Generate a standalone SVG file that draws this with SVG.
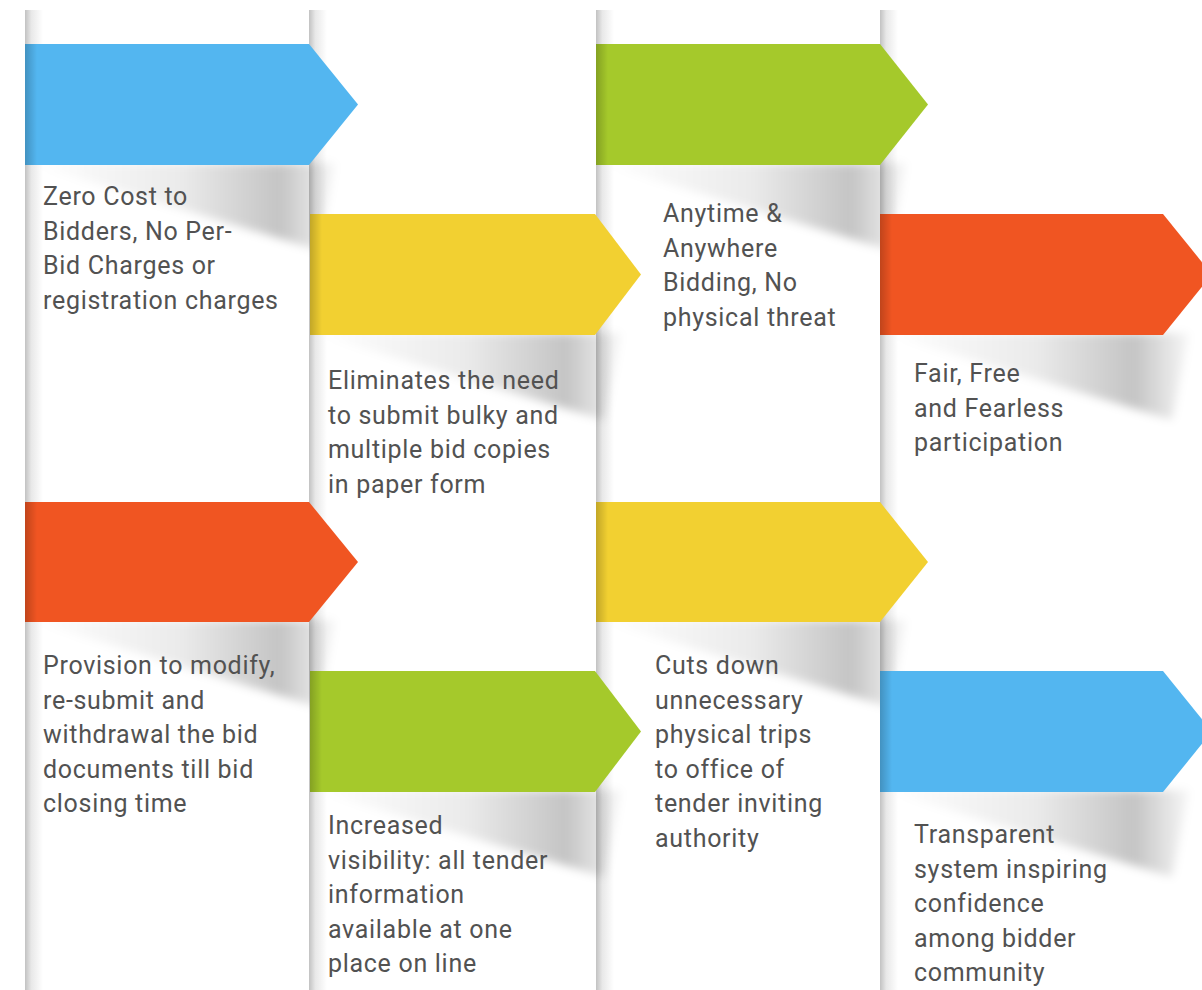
<svg xmlns="http://www.w3.org/2000/svg" width="1202" height="990" viewBox="0 0 1202 990">
  <defs>
    <linearGradient id="edge" x1="0" y1="0" x2="1" y2="0">
      <stop offset="0" stop-color="#000" stop-opacity="0.24"/>
      <stop offset="0.35" stop-color="#000" stop-opacity="0.09"/>
      <stop offset="1" stop-color="#000" stop-opacity="0"/>
    </linearGradient>
    <linearGradient id="fold" x1="0" y1="0" x2="1" y2="0">
      <stop offset="0" stop-color="#000" stop-opacity="0.2"/>
      <stop offset="1" stop-color="#000" stop-opacity="0"/>
    </linearGradient>
    <linearGradient id="shade" x1="0" y1="0" x2="1" y2="0">
      <stop offset="0" stop-color="#000" stop-opacity="0"/>
      <stop offset="0.5" stop-color="#000" stop-opacity="0.08"/>
      <stop offset="0.82" stop-color="#000" stop-opacity="0.23"/>
      <stop offset="1" stop-color="#000" stop-opacity="0.03"/>
    </linearGradient>
    <filter id="blur" x="-20%" y="-40%" width="140%" height="180%">
      <feGaussianBlur stdDeviation="5"/>
    </filter>
  </defs>
  <style>
    .card { fill: #ffffff; }
    .edge { fill: url(#edge); }
    .fold { fill: url(#fold); }
    .shadow { fill: url(#shade); filter: url(#blur); }
    .blue { fill: #53B6F0; }
    .yellow { fill: #F2D031; }
    .green { fill: #A5C92B; }
    .orange { fill: #F05522; }
    text { font-family: Roboto, "Liberation Sans", sans-serif; font-size: 25px; letter-spacing: 0.7px; fill: #525252; }
  </style>
  <rect width="1202" height="990" fill="#ffffff"/>

  <g id="cards">
    <rect class="card" x="25" y="10" width="284" height="980"/>
    <rect class="card" x="309" y="10" width="287" height="980"/>
    <rect class="card" x="596" y="10" width="284" height="980"/>
    <rect class="card" x="880" y="10" width="322" height="980"/>
    <rect class="edge" x="25" y="10" width="18" height="457"/>
    <rect class="edge" x="25" y="467" width="18" height="523"/>
    <rect class="edge" x="309" y="10" width="18" height="457"/>
    <rect class="edge" x="309" y="467" width="18" height="523"/>
    <rect class="edge" x="596" y="10" width="18" height="457"/>
    <rect class="edge" x="596" y="467" width="18" height="523"/>
    <rect class="edge" x="880" y="10" width="18" height="457"/>
    <rect class="edge" x="880" y="467" width="18" height="523"/>
  </g>

  <g id="connectors"></g>

  <g id="node1">
    <polygon class="shadow" points="28,163 335,163 318,250"/>
    <polygon class="blue" points="25,44 309,44 358,104.5 309,165 25,165"/>
    <rect class="fold" x="25" y="44" width="12" height="121"/>
    <text x="43" y="205">Zero Cost to</text>
    <text x="43" y="239.5">Bidders, No Per-</text>
    <text x="43" y="274">Bid Charges or</text>
    <text x="43" y="308.5">registration charges</text>
  </g>

  <g id="node2">
    <polygon class="shadow" points="313,333 621,333 604,420"/>
    <polygon class="yellow" points="310,214 595,214 641,274.5 595,335 310,335"/>
    <rect class="fold" x="310" y="214" width="12" height="121"/>
    <text x="328" y="389">Eliminates the need</text>
    <text x="328" y="423.5">to submit bulky and</text>
    <text x="328" y="458">multiple bid copies</text>
    <text x="328" y="492.5">in paper form</text>
  </g>

  <g id="node3">
    <polygon class="shadow" points="599,163 906,163 889,250"/>
    <polygon class="green" points="596,44 880,44 928,104.5 880,165 596,165"/>
    <rect class="fold" x="596" y="44" width="12" height="121"/>
    <text x="663" y="222">Anytime &amp;</text>
    <text x="663" y="256.5">Anywhere</text>
    <text x="663" y="291">Bidding, No</text>
    <text x="663" y="325.5">physical threat</text>
  </g>

  <g id="node4">
    <polygon class="shadow" points="883,333 1189,333 1172,420"/>
    <polygon class="orange" points="880,214 1163,214 1212,274.5 1163,335 880,335"/>
    <rect class="fold" x="880" y="214" width="12" height="121"/>
    <text x="914" y="382">Fair, Free</text>
    <text x="914" y="416.5">and Fearless</text>
    <text x="914" y="451">participation</text>
  </g>

  <g id="node5">
    <polygon class="shadow" points="28,620 335,620 318,707"/>
    <polygon class="orange" points="25,502 309,502 358,562 309,622 25,622"/>
    <rect class="fold" x="25" y="502" width="12" height="120"/>
    <text x="43" y="674">Provision to modify,</text>
    <text x="43" y="708.5">re-submit and</text>
    <text x="43" y="743">withdrawal the bid</text>
    <text x="43" y="777.5">documents till bid</text>
    <text x="43" y="812">closing time</text>
  </g>

  <g id="node6">
    <polygon class="shadow" points="313,790 621,790 604,877"/>
    <polygon class="green" points="310,671 595,671 641,731.5 595,792 310,792"/>
    <rect class="fold" x="310" y="671" width="12" height="121"/>
    <text x="328" y="834">Increased</text>
    <text x="328" y="868.5">visibility: all tender</text>
    <text x="328" y="903">information</text>
    <text x="328" y="937.5">available at one</text>
    <text x="328" y="972">place on line</text>
  </g>

  <g id="node7">
    <polygon class="shadow" points="599,620 906,620 889,707"/>
    <polygon class="yellow" points="596,502 880,502 928,562 880,622 596,622"/>
    <rect class="fold" x="596" y="502" width="12" height="120"/>
    <text x="655" y="674">Cuts down</text>
    <text x="655" y="708.5">unnecessary</text>
    <text x="655" y="743">physical trips</text>
    <text x="655" y="777.5">to office of</text>
    <text x="655" y="812">tender inviting</text>
    <text x="655" y="846.5">authority</text>
  </g>

  <g id="node8">
    <polygon class="shadow" points="883,790 1189,790 1172,877"/>
    <polygon class="blue" points="880,671 1163,671 1212,731.5 1163,792 880,792"/>
    <rect class="fold" x="880" y="671" width="12" height="121"/>
    <text x="914" y="843">Transparent</text>
    <text x="914" y="877.5">system inspiring</text>
    <text x="914" y="912">confidence</text>
    <text x="914" y="946.5">among bidder</text>
    <text x="914" y="981">community</text>
  </g>
</svg>
